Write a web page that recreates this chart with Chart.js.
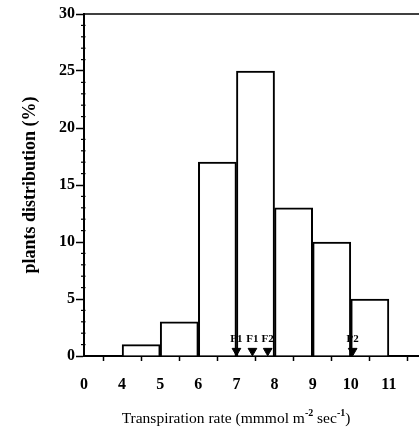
<!DOCTYPE html>
<html>
<head>
<meta charset="utf-8">
<script src="https://cdn.jsdelivr.net/npm/chart.js@4/dist/chart.umd.min.js"></script>
<style>
  html, body { margin: 0; padding: 0; background: #fff; }
  #wrap { width: 419px; height: 434px; }
</style>
</head>
<body>
<div id="wrap"><canvas id="c" width="419" height="434"></canvas></div>
<script>
// ---- data ----
const binStarts = [4, 5, 6, 7, 8, 9, 10];
const plantPercents = [1, 3, 17, 25, 13, 10, 5];
const xTickLabels = ['0', '4', '5', '6', '7', '8', '9', '10', '11'];
const markerLabels = ['P1', 'F1', 'F2', 'P2'];
const markerValues = [7.0, 7.42, 7.82, 10.05];
const yTitle = 'plants distribution (%)';

const SERIF = '"Liberation Serif", "DejaVu Serif", serif';

const barData = binStarts.map((s, i) => ({ x: s + 0.5, y: plantPercents[i] }));
const markerData = markerValues.map(v => ({ x: v, y: 0.45 }));

const decorPlugin = {
  id: 'decor',
  afterDraw(chart) {
    const ctx = chart.ctx;
    const area = chart.chartArea;
    const ys = chart.scales.y;
    ctx.save();
    // top frame line
    ctx.strokeStyle = '#000';
    ctx.lineWidth = 1.5;
    ctx.beginPath();
    ctx.moveTo(area.left, area.top);
    ctx.lineTo(chart.width, area.top);
    ctx.stroke();
    // minor y ticks
    ctx.lineWidth = 1.2;
    for (let v = 0; v <= 30; v++) {
      if (v % 5 === 0) continue;
      const py = ys.getPixelForValue(v);
      ctx.beginPath();
      ctx.moveTo(area.left - 3, py);
      ctx.lineTo(area.left + 1.5, py);
      ctx.stroke();
    }
    // marker labels
    ctx.fillStyle = '#000';
    ctx.font = 'bold 11px ' + SERIF;
    ctx.textAlign = 'center';
    ctx.textBaseline = 'middle';
    const meta = chart.getDatasetMeta(1);
    meta.data.forEach((pt, i) => {
      ctx.fillText(markerLabels[i], pt.x, pt.y - 12);
    });
    // x title with superscripts
    const parts = [
      ['Transpiration rate (mmmol m', false],
      ['-2', true],
      [' sec', false],
      ['-1', true],
      [')', false]
    ];
    const big = '15.5px ' + SERIF, small = '10px ' + SERIF;
    let total = 0;
    parts.forEach(p => { ctx.font = p[1] ? 'bold ' + small : big; total += ctx.measureText(p[0]).width; });
    let x = 236 - total / 2;
    const baseY = 423;
    ctx.textAlign = 'left';
    ctx.textBaseline = 'alphabetic';
    parts.forEach(p => {
      ctx.font = p[1] ? 'bold ' + small : big;
      ctx.fillText(p[0], x, p[1] ? baseY - 7 : baseY);
      x += ctx.measureText(p[0]).width;
    });
    ctx.restore();
  }
};

new Chart(document.getElementById('c'), {
  type: 'bar',
  data: {
    datasets: [
      {
        type: 'bar',
        data: barData,
        backgroundColor: '#fff',
        borderColor: '#000',
        borderWidth: 2,
        borderSkipped: 'bottom',
        barPercentage: 1,
        categoryPercentage: 1,
        order: 2
      },
      {
        type: 'scatter',
        data: markerData,
        pointStyle: 'triangle',
        rotation: 180,
        radius: 5,
        backgroundColor: '#000',
        borderColor: '#000',
        borderWidth: 1,
        order: 1
      }
    ]
  },
  options: {
    responsive: false,
    animation: false,
    events: [],
    layout: { autoPadding: false, padding: { top: 14, right: 0, left: 0, bottom: 0 } },
    plugins: { legend: { display: false }, tooltip: { enabled: false } },
    scales: {
      x: {
        type: 'linear',
        min: 3,
        max: 11.79,
        offset: false,
        afterFit(s) { s.height = 78; s.paddingRight = 0; s.paddingLeft = 0; },
        ticks: {
          stepSize: 1,
          includeBounds: false,
          autoSkip: false,
          maxRotation: 0,
          padding: 14,
          color: '#000',
          font: { family: SERIF, size: 16, weight: 'bold' },
          callback: (v, i) => xTickLabels[i]
        },
        grid: { drawOnChartArea: false, tickLength: 5, tickColor: '#000', tickWidth: 1.5 },
        border: { color: '#000', width: 2 },
        title: { display: false }
      },
      y: {
        type: 'linear',
        min: 0,
        max: 30,
        afterFit(s) { s.width = 84; s.paddingTop = 0; s.paddingBottom = 0; },
        ticks: {
          stepSize: 5,
          padding: 1,
          color: '#000',
          font: { family: SERIF, size: 16, weight: 'bold' },
          callback: v => String(v)
        },
        grid: { drawOnChartArea: false, tickLength: 8, tickColor: '#000', tickWidth: 1.5 },
        border: { color: '#000', width: 2 },
        title: {
          display: true,
          text: yTitle,
          color: '#000',
          font: { family: SERIF, size: 18, weight: 'bold' },
          padding: { top: 20, bottom: 0 }
        }
      }
    }
  },
  plugins: [decorPlugin]
});
</script>
</body>
</html>
